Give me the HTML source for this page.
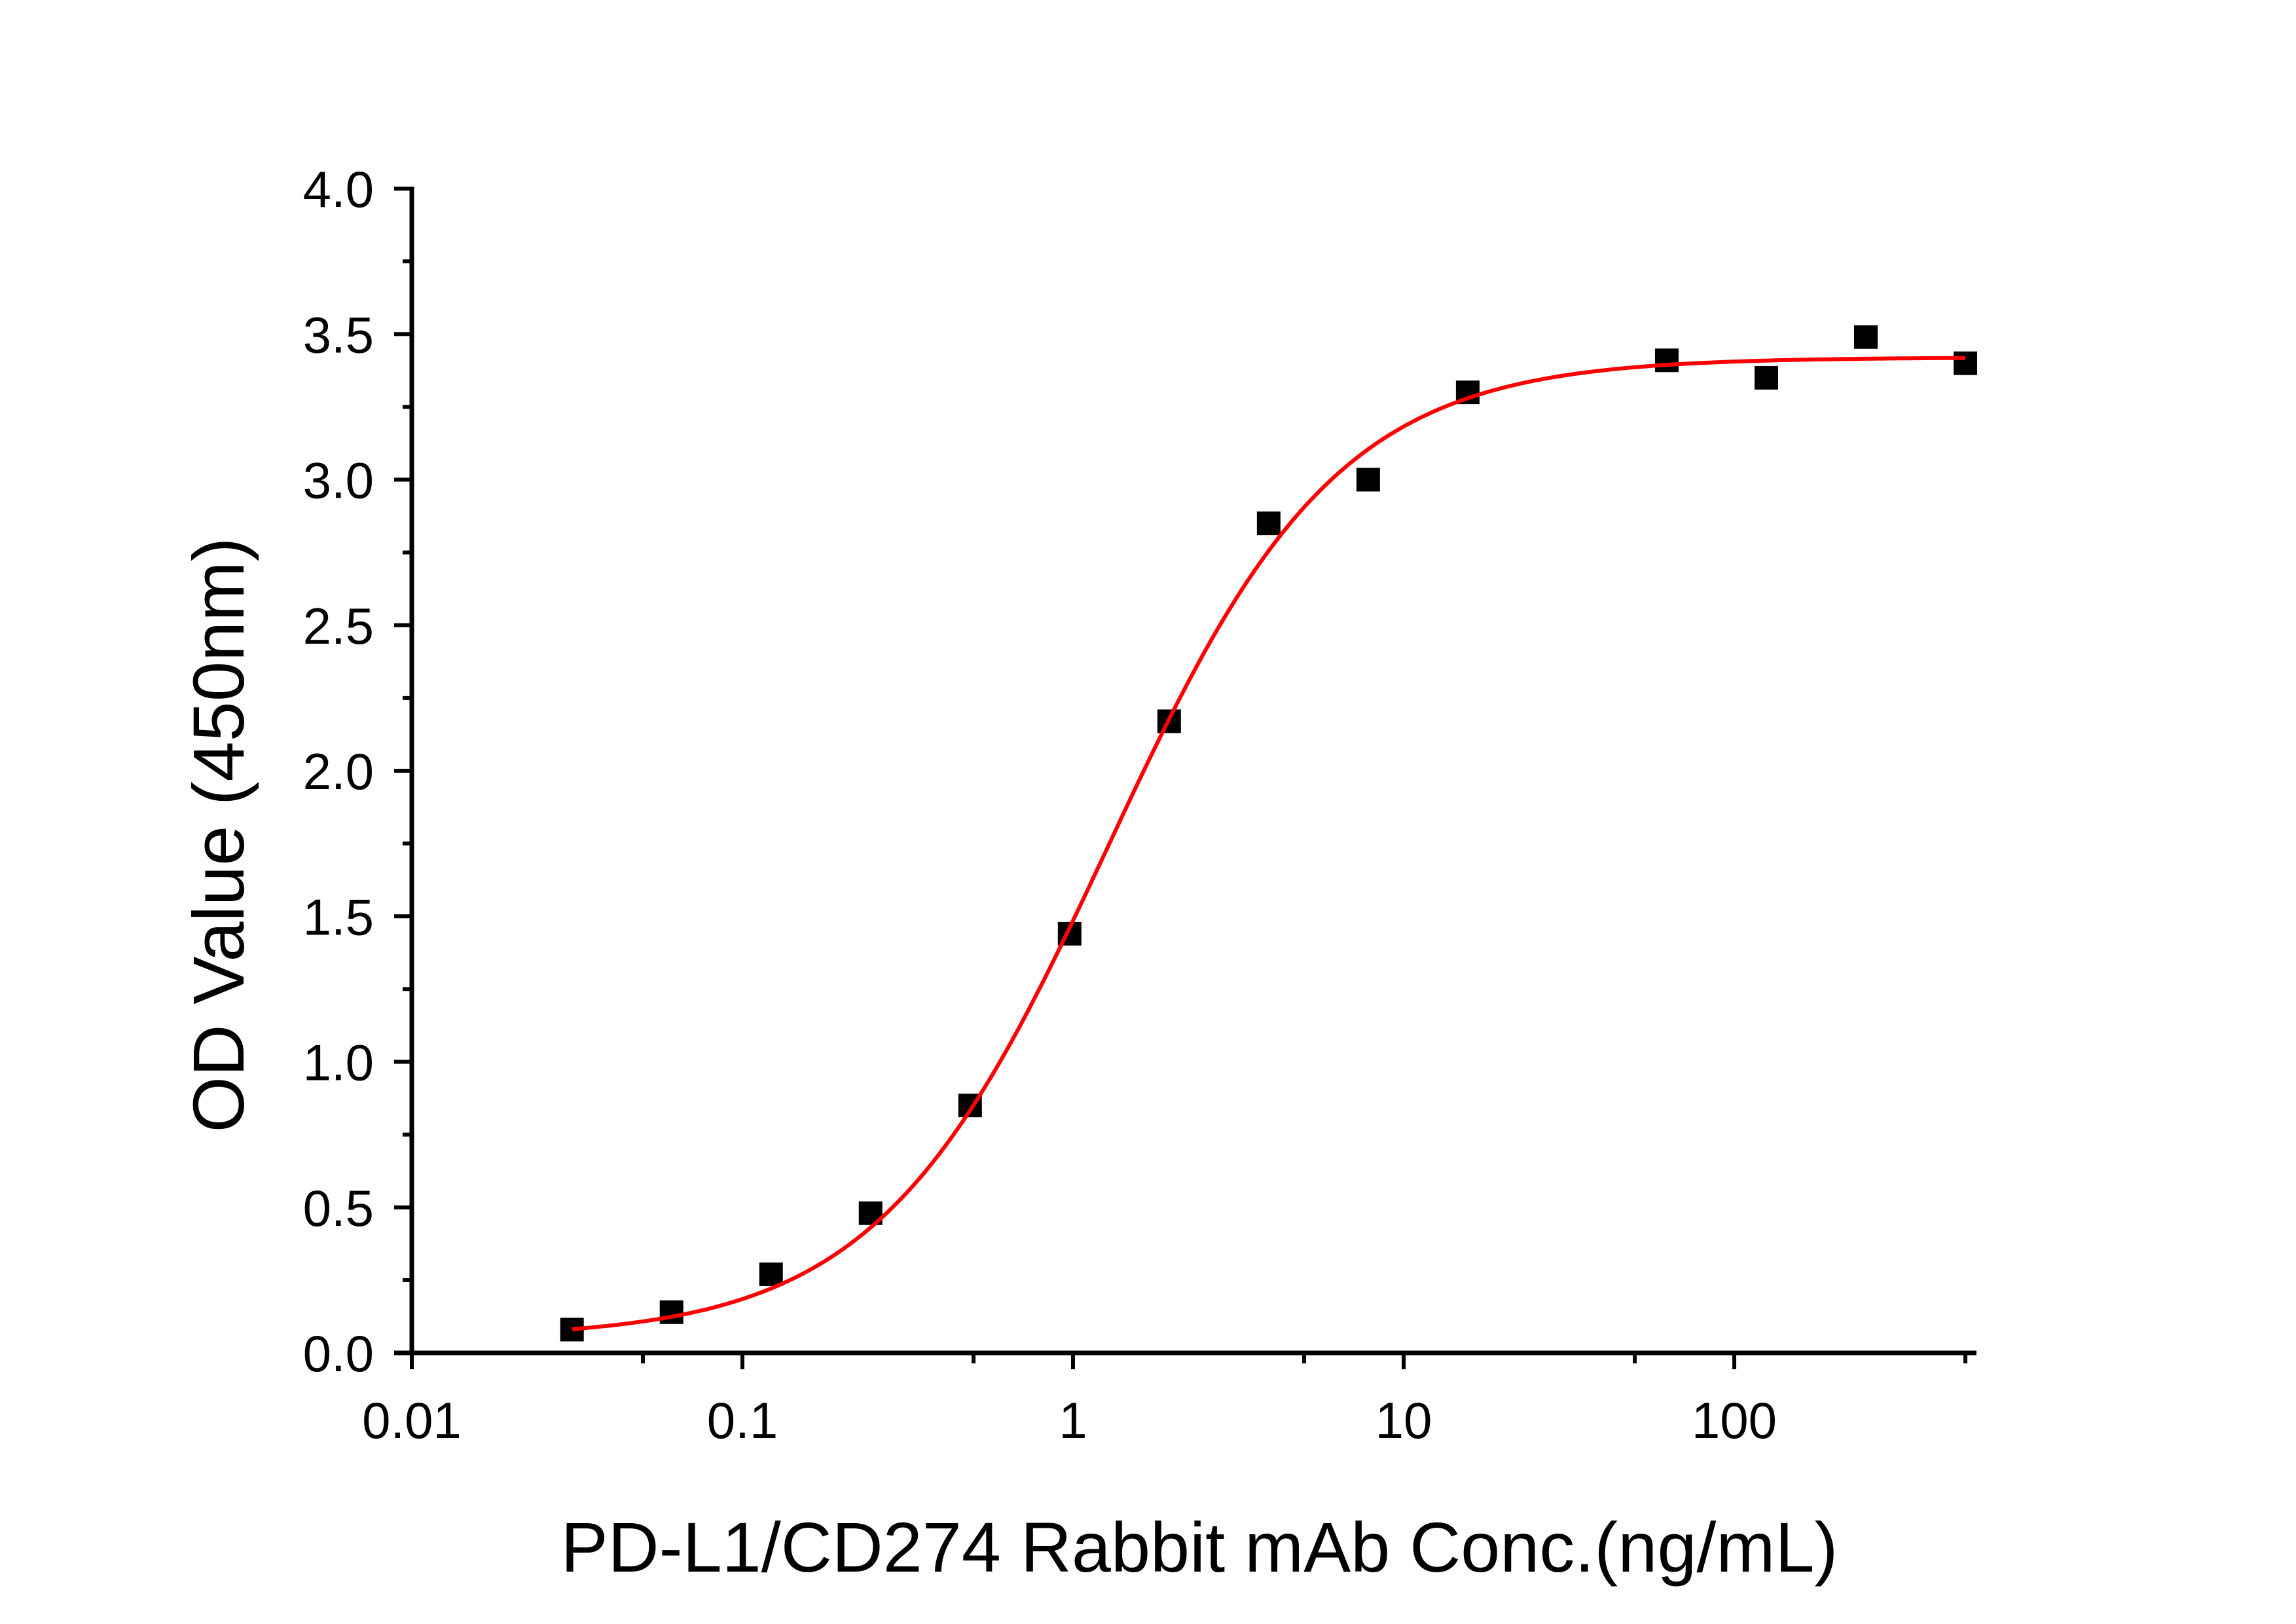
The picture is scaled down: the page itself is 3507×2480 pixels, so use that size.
<!DOCTYPE html>
<html><head><meta charset="utf-8"><style>
html,body{margin:0;padding:0;background:#fff;}
svg{display:block;}
text{font-family:"Liberation Sans",sans-serif;fill:#000;}
</style></head><body>
<svg id="s" width="3507" height="2480" viewBox="0 0 3507 2480" xmlns="http://www.w3.org/2000/svg"></svg>
<script>
const s=document.getElementById('s');
const X0=629,Y0=2066,DEC=505,YU=444.5;
const xp=v=>X0+(Math.log10(v)+2)*DEC;
const yp=v=>Y0-v*YU;
let h='';
const xend=xp(540);
h+=`<line x1="${X0}" y1="${Y0-4*YU-3}" x2="${X0}" y2="${Y0}" stroke="#000" stroke-width="7"/>`;
h+=`<line x1="${X0-27}" y1="${Y0}" x2="${xend}" y2="${Y0}" stroke="#000" stroke-width="7"/>`;
for(let i=0;i<=16;i++){const v=i*0.25,y=yp(v),maj=i%2==0;
 h+=`<line x1="${X0-(maj?27:14)}" y1="${y}" x2="${X0}" y2="${y}" stroke="#000" stroke-width="6"/>`;
 if(maj)h+=`<text x="${X0-58}" y="${y+28}" font-size="78" text-anchor="end">${v.toFixed(1)}</text>`;}
const labs=['0.01','0.1','1','10','100'];
for(let d=0;d<5;d++){const x=X0+d*DEC;
 h+=`<line x1="${x}" y1="${Y0}" x2="${x}" y2="${Y0+25}" stroke="#000" stroke-width="6"/>`;
 h+=`<text x="${x}" y="${Y0+130}" font-size="78" text-anchor="middle">${labs[d]}</text>`;
 const xm=xp(0.05*Math.pow(10,d));
 h+=`<line x1="${xm}" y1="${Y0}" x2="${xm}" y2="${Y0+16}" stroke="#000" stroke-width="6"/>`;}
const f=x=>0.05+3.37/(1+Math.pow(1.27/x,1.25));
let p='';
for(let i=0;i<=300;i++){const lx=Math.log10(0.0305)+i*(Math.log10(500)-Math.log10(0.0305))/300;const x=Math.pow(10,lx);
 p+=(i?'L':'M')+xp(x).toFixed(1)+','+yp(f(x)).toFixed(1);}
const pts=[[14,0.08],[13,0.14],[12,0.27],[11,0.48],[10,0.85],[9,1.44],[8,2.17],[7,2.85],[6,3.0],[5,3.3],[3,3.41],[2,3.35],[1,3.49],[0,3.4]];
for(const [n,v] of pts){const x=xp(500/Math.pow(2,n)),y=yp(v);
 h+=`<rect x="${x-18}" y="${y-18}" width="36" height="36" fill="#000"/>`;}
h+=`<path d="${p}" fill="none" stroke="#f00" stroke-width="6"/>`;
h+=`<text x="1832" y="2400" font-size="108" text-anchor="middle">PD-L1/CD274 Rabbit mAb Conc.(ng/mL)</text>`;
h+=`<text transform="translate(372,1275) rotate(-90)" x="0" y="0" font-size="110" text-anchor="middle">OD Value (450nm)</text>`;
s.innerHTML=h;
</script>
</body></html>
